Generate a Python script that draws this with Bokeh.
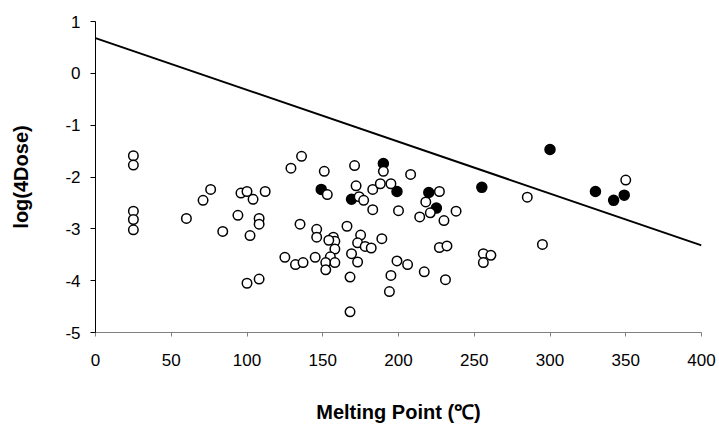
from bokeh.plotting import figure
from bokeh.models import FixedTicker
from bokeh.embed import file_html
from bokeh.resources import INLINE

# ---- data ----
open_x = [25, 25, 25, 25, 25,
          60, 71, 76, 84, 94, 96, 100, 104, 112, 108, 108, 102, 100, 108,
          129, 136, 135, 125, 132, 137, 145, 146, 146, 151, 153,
          157, 158, 154, 158, 155, 152, 152, 158,
          166, 169, 168, 168, 171, 172, 174, 177, 175, 173, 178, 182, 173,
          183, 183, 188, 190, 195, 189, 199, 195, 194, 200,
          208, 227, 218, 221, 214, 230, 238, 285,
          206, 217, 227, 232, 231, 256, 261, 256, 295, 350]
open_y = [-1.59, -1.77, -2.66, -2.82, -3.02,
          -2.80, -2.45, -2.24, -3.05, -2.74, -2.31, -2.28, -2.43, -2.28, -2.80, -2.91, -3.13, -4.05, -3.97,
          -1.83, -1.60, -2.91, -3.55, -3.69, -3.65, -3.55, -3.01, -3.16, -1.89, -2.34,
          -3.16, -3.24, -3.22, -3.39, -3.54, -3.65, -3.79, -3.65,
          -2.95, -3.48, -3.93, -4.60, -1.78, -2.17, -2.38, -2.45, -3.12, -3.27, -3.34, -3.37, -3.64,
          -2.63, -2.24, -2.13, -1.89, -2.13, -3.19, -3.62, -3.90, -4.21, -2.65,
          -1.95, -2.28, -2.48, -2.69, -2.77, -2.84, -2.66, -2.39,
          -3.69, -3.83, -3.36, -3.33, -3.98, -3.48, -3.51, -3.65, -3.30, -2.06]

filled_x = [149, 169, 190, 199, 220, 225, 255, 300, 330, 342, 349]
filled_y = [-2.24, -2.43, -1.74, -2.28, -2.30, -2.60, -2.20, -1.47, -2.28, -2.45, -2.35]

line_x = [0, 400]
line_y = [0.68, -3.32]

x_ticks = [0, 50, 100, 150, 200, 250, 300, 350, 400]
y_ticks = [-5, -4, -3, -2, -1, 0, 1]

x_title = "Melting Point (\u2103)"
y_title = "log(4Dose)"

# ---- figure ----
p = figure(width=719, height=426, x_range=(0, 400), y_range=(-5, 1),
           output_backend="svg", toolbar_location=None,
           min_border_left=95, min_border_right=18,
           min_border_top=21, min_border_bottom=94)
p.grid.visible = False
p.outline_line_color = None
p.background_fill_color = "white"
p.border_fill_color = "white"

p.line(line_x, line_y, line_color="black", line_width=2)

p.scatter(filled_x, filled_y, marker="circle", size=10, fill_color="black",
          line_color="black", line_width=1.5)
p.scatter(open_x, open_y, marker="circle", size=9.5, fill_color="white",
          line_color="black", line_width=1.5)

for ax in (p.xaxis[0], p.yaxis[0]):
    ax.minor_tick_line_color = None
    ax.major_tick_in = 0
    ax.major_label_text_font = "Liberation Sans"
    ax.major_label_text_font_size = "17px"
    ax.major_label_text_color = "black"
    ax.axis_label_text_font = "Liberation Sans"
    ax.axis_label_text_font_size = "20px"
    ax.axis_label_text_font_style = "bold"
    ax.axis_label_text_color = "black"

p.xaxis.ticker = FixedTicker(ticks=x_ticks)
p.yaxis.ticker = FixedTicker(ticks=y_ticks)
p.xaxis.major_label_overrides = {t: str(t) for t in x_ticks}
p.yaxis.major_label_overrides = {t: str(t) for t in y_ticks}

p.xaxis.axis_label = x_title
p.yaxis.axis_label = y_title

p.xaxis.axis_line_color = "#808080"
p.xaxis.major_tick_line_color = "#808080"
p.xaxis.major_tick_out = 4
p.xaxis.major_label_standoff = 17
p.xaxis.axis_label_standoff = 32

p.yaxis.axis_line_color = "black"
p.yaxis.major_tick_line_color = "black"
p.yaxis.major_tick_out = 5
p.yaxis.major_label_standoff = 10
p.yaxis.axis_label_standoff = 30

open("out.html", "w").write(file_html(p, INLINE))
